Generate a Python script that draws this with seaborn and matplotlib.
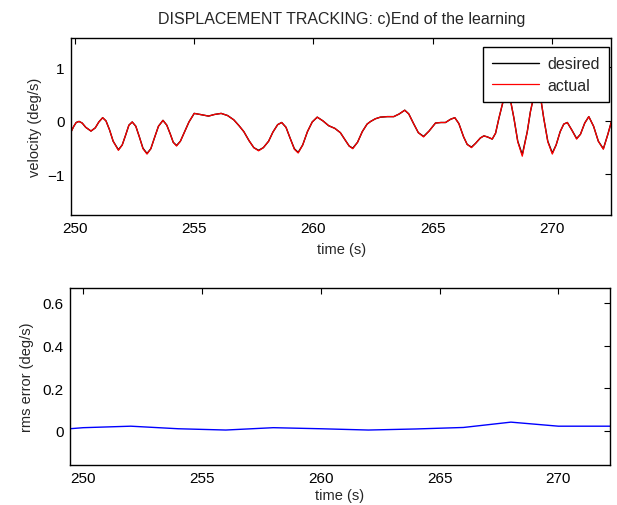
import matplotlib
matplotlib.use("Agg")
import matplotlib.pyplot as plt
import seaborn as sns
import pandas as pd

# velocity tracking (deg/s)
time_v = [249.80, 249.95, 250.05, 250.17, 250.30, 250.45, 250.67, 250.85, 251.00, 251.16,
          251.30, 251.45, 251.60, 251.82, 251.98, 252.12, 252.26, 252.40, 252.55, 252.70,
          252.85, 253.02, 253.18, 253.33, 253.50, 253.69, 253.85, 254.00, 254.12, 254.26,
          254.42, 254.58, 254.78, 255.00, 255.25, 255.60, 255.85, 256.13, 256.40, 256.66,
          256.88, 257.08, 257.30, 257.50, 257.70, 257.90, 258.12, 258.30, 258.50, 258.67,
          258.85, 259.02, 259.20, 259.36, 259.55, 259.75, 259.95, 260.16, 260.40, 260.64,
          260.90, 261.13, 261.35, 261.50, 261.65, 261.85, 262.05, 262.25, 262.40, 262.60,
          262.81, 263.10, 263.37, 263.60, 263.83, 264.00, 264.20, 264.40, 264.62, 264.85,
          265.12, 265.35, 265.54, 265.75, 265.93, 266.10, 266.30, 266.45, 266.63, 266.80,
          267.00, 267.15, 267.30, 267.50, 267.64, 267.78, 267.96, 268.12, 268.27, 268.41,
          268.57, 268.76, 268.97, 269.10, 269.20, 269.38, 269.55, 269.66, 269.83, 270.02,
          270.18, 270.35, 270.50, 270.65, 270.85, 271.04, 271.20, 271.38, 271.55, 271.75,
          271.95, 272.16, 272.35, 272.50]
desired = [-0.23, -0.10, -0.03, -0.01, -0.04, -0.12, -0.19, -0.13, -0.02, 0.06,
           0.00, -0.17, -0.38, -0.54, -0.45, -0.27, -0.08, -0.02, -0.10, -0.30,
           -0.51, -0.61, -0.52, -0.32, -0.10, 0.01, -0.08, -0.25, -0.40, -0.46,
           -0.38, -0.22, -0.02, 0.14, 0.12, 0.09, 0.12, 0.14, 0.10, 0.02,
           -0.09, -0.20, -0.37, -0.50, -0.55, -0.50, -0.38, -0.21, -0.07, -0.03,
           -0.12, -0.32, -0.52, -0.59, -0.45, -0.20, -0.02, 0.07, 0.00, -0.09,
           -0.14, -0.22, -0.37, -0.47, -0.51, -0.40, -0.20, -0.06, -0.01, 0.04,
           0.07, 0.08, 0.08, 0.13, 0.20, 0.13, -0.05, -0.22, -0.29, -0.19,
           -0.04, -0.03, -0.03, 0.03, 0.06, -0.05, -0.30, -0.44, -0.49, -0.42,
           -0.32, -0.28, -0.30, -0.34, -0.23, 0.05, 0.37, 0.52, 0.37, 0.05,
           -0.38, -0.63, -0.20, 0.17, 0.37, 0.57, 0.37, 0.05, -0.38, -0.60,
           -0.45, -0.20, -0.06, -0.03, -0.18, -0.33, -0.25, -0.04, 0.08, -0.10,
           -0.38, -0.52, -0.25, -0.01]
actual = [-0.24, -0.10, -0.03, -0.01, -0.04, -0.12, -0.19, -0.13, -0.02, 0.06,
          0.00, -0.17, -0.38, -0.55, -0.45, -0.27, -0.08, -0.02, -0.10, -0.30,
          -0.52, -0.62, -0.52, -0.32, -0.10, 0.01, -0.08, -0.25, -0.40, -0.47,
          -0.38, -0.22, -0.02, 0.14, 0.12, 0.09, 0.12, 0.14, 0.10, 0.02,
          -0.09, -0.20, -0.37, -0.50, -0.56, -0.50, -0.38, -0.21, -0.07, -0.03,
          -0.12, -0.32, -0.53, -0.60, -0.45, -0.20, -0.02, 0.07, 0.00, -0.09,
          -0.14, -0.22, -0.37, -0.47, -0.52, -0.40, -0.20, -0.06, -0.01, 0.04,
          0.07, 0.08, 0.08, 0.13, 0.20, 0.13, -0.05, -0.22, -0.30, -0.19,
          -0.04, -0.03, -0.03, 0.03, 0.06, -0.05, -0.30, -0.44, -0.50, -0.42,
          -0.32, -0.28, -0.30, -0.34, -0.23, 0.05, 0.38, 0.54, 0.38, 0.05,
          -0.39, -0.66, -0.20, 0.17, 0.38, 0.59, 0.38, 0.05, -0.39, -0.62,
          -0.45, -0.20, -0.06, -0.03, -0.18, -0.34, -0.25, -0.04, 0.08, -0.10,
          -0.38, -0.53, -0.25, -0.01]

# rms error, sampled every 2 s
time_rms = [249.43, 250.0, 252.0, 254.0, 256.0, 258.0, 260.0, 262.0, 264.0, 266.0, 268.0, 270.0, 272.18]
rms_err = [0.010, 0.015, 0.022, 0.010, 0.004, 0.015, 0.010, 0.004, 0.009, 0.016, 0.041, 0.022, 0.022]

x_ticks = [250, 255, 260, 265, 270]
vel_ticks = [-1, 0, 1]
rms_ticks = [0, 0.2, 0.4, 0.6]

sns.set_style("white")
plt.rcParams['font.family'] = ['Liberation Sans', 'DejaVu Sans']
plt.rcParams['font.size'] = 10.5

fig = plt.figure(figsize=(6.17, 5.06), dpi=100)
ax1 = fig.add_axes([0.115, 0.573, 0.876, 0.350])
ax2 = fig.add_axes([0.113, 0.079, 0.876, 0.350])

vel = pd.DataFrame({"t": time_v, "desired": desired, "actual": actual})
sns.lineplot(data=vel, x="t", y="desired", ax=ax1, color="black", linewidth=1.0, label="desired")
sns.lineplot(data=vel, x="t", y="actual", ax=ax1, color="red", linewidth=0.9, label="actual")

ax1.set_xlim(249.83, 272.5)
ax1.set_ylim(-1.76, 1.55)
ax1.set_xticks(x_ticks)
ax1.set_yticks(vel_ticks)
ax1.set_xlabel("time (s)", fontsize=10.5, labelpad=5)
ax1.set_ylabel("velocity (deg/s)", fontsize=10.5, labelpad=4)
ax1.set_title("DISPLACEMENT TRACKING: c)End of the learning", fontsize=11.5, pad=11)
leg = ax1.legend(loc="upper right", bbox_to_anchor=(0.995, 0.947), fancybox=False,
                 edgecolor="black", framealpha=1, fontsize=11.5, handlelength=3.0,
                 handletextpad=0.5, borderaxespad=0, borderpad=0.55, labelspacing=0.42)
leg.get_frame().set_linewidth(1.0)

rms = pd.DataFrame({"t": time_rms, "rms": rms_err})
sns.lineplot(data=rms, x="t", y="rms", ax=ax2, color="blue", linewidth=1.0)
ax2.set_xlim(249.43, 272.18)
ax2.set_ylim(-0.16, 0.67)
ax2.set_xticks(x_ticks)
ax2.set_yticks(rms_ticks)
ax2.set_yticklabels(["0", "0.2", "0.4", "0.6"])
ax2.set_xlabel("time (s)", fontsize=10.5, labelpad=2)
ax2.set_ylabel("rms error (deg/s)", fontsize=10.5, labelpad=6)

for ax in (ax1, ax2):
    ax.tick_params(direction="in", top=True, right=True, length=4, width=0.8,
                   labelsize=11, colors="black", pad=4.5)
    for s in ax.spines.values():
        s.set_linewidth(1.0)
        s.set_color("black")

fig.savefig("out.png", dpi=100)
